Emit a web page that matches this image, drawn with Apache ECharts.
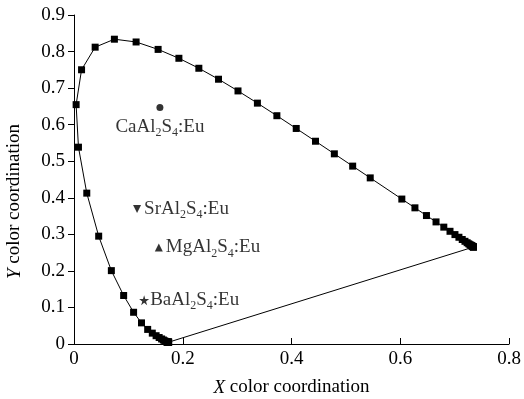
<!DOCTYPE html>
<html>
<head>
<meta charset="utf-8">
<script src="https://cdn.jsdelivr.net/npm/echarts@6/dist/echarts.min.js"></script>
<style>
  html, body { margin: 0; padding: 0; background: #fff; }
  #chart { width: 524px; height: 399px; }
</style>
</head>
<body>
<div id="chart"></div>
<script>
// spectral locus, 380 nm -> 700 nm (5 nm steps, 590 has no marker)
const locusX = [0.1741, 0.1740, 0.1738, 0.1736, 0.1733, 0.1731, 0.1726, 0.1721, 0.1714, 0.1703,
  0.1689, 0.1669, 0.1644, 0.1611, 0.1566, 0.1510, 0.1440, 0.1355, 0.1241, 0.1096,
  0.0913, 0.0687, 0.0454, 0.0235, 0.0082, 0.0039, 0.0139, 0.0389, 0.0743, 0.1142,
  0.1547, 0.1929, 0.2296, 0.2658, 0.3016, 0.3373, 0.3731, 0.4087, 0.4441, 0.4788,
  0.5125, 0.5448, 0.6029, 0.6270, 0.6482, 0.6658, 0.6801, 0.6915, 0.7006, 0.7079,
  0.7140, 0.7190, 0.7230, 0.7260, 0.7283, 0.7300, 0.7311, 0.7320, 0.7327, 0.7334,
  0.7340, 0.7344, 0.7346, 0.7347];
const locusY = [0.0050, 0.0050, 0.0049, 0.0049, 0.0048, 0.0048, 0.0048, 0.0048, 0.0051, 0.0058,
  0.0069, 0.0086, 0.0109, 0.0138, 0.0177, 0.0227, 0.0297, 0.0399, 0.0578, 0.0868,
  0.1327, 0.2007, 0.2950, 0.4127, 0.5384, 0.6548, 0.7502, 0.8120, 0.8338, 0.8262,
  0.8059, 0.7816, 0.7543, 0.7243, 0.6923, 0.6589, 0.6245, 0.5896, 0.5547, 0.5202,
  0.4866, 0.4544, 0.3965, 0.3725, 0.3514, 0.3340, 0.3197, 0.3083, 0.2993, 0.2920,
  0.2859, 0.2809, 0.2770, 0.2740, 0.2717, 0.2700, 0.2689, 0.2680, 0.2673, 0.2666,
  0.2660, 0.2656, 0.2654, 0.2653];

// phosphors
const phosphorNames = ['CaAl2S4:Eu', 'SrAl2S4:Eu', 'MgAl2S4:Eu', 'BaAl2S4:Eu'];
const phosphorX = [0.158, 0.116, 0.156, 0.129];
const phosphorY = [0.647, 0.369, 0.264, 0.120];

const xTicks = [0, 0.2, 0.4, 0.6, 0.8];
const yTicks = [0, 0.1, 0.2, 0.3, 0.4, 0.5, 0.6, 0.7, 0.8, 0.9];

const FONT = '"Liberation Serif", "DejaVu Serif", serif';
const FS = 19;

const starPath = 'path://M50,0 L61,35 L98,35 L68,57 L79,91 L50,70 L21,91 L32,57 L2,35 L39,35 Z';

// 下标数字用富文本
function chemLabel(name) {
    return '{a|' + name.replace(/(\d)/g, '}{s|$1}{a|') + '}';
}

const labelRich = {
    a: { fontFamily: FONT, fontSize: FS, color: '#000', lineHeight: 24 },
    s: { fontFamily: FONT, fontSize: 12, color: '#000', lineHeight: 12, verticalAlign: 'bottom' }
};

const locusData = locusX.map((x, i) => [x, locusY[i]]);
const purpleLine = [
    [locusX[locusX.length - 1], locusY[locusY.length - 1]],
    [locusX[0], locusY[0]]
];

const markers = [
    { symbol: 'circle', size: 7, rotate: 0, pos: 'bottom', dist: 4 },
    { symbol: 'triangle', size: 8, rotate: 180, pos: 'right', dist: 3 },
    { symbol: 'triangle', size: 8, rotate: 0, pos: 'right', dist: 3 },
    { symbol: starPath, size: 10, rotate: 0, pos: 'right', dist: 1 }
];

const phosphorSeries = phosphorNames.map((name, i) => ({
    type: 'scatter',
    name: name,
    data: [[phosphorX[i], phosphorY[i]]],
    symbol: markers[i].symbol,
    symbolSize: markers[i].size,
    symbolRotate: markers[i].rotate,
    itemStyle: { color: '#000' },
    label: {
        show: true,
        position: markers[i].pos,
        distance: markers[i].dist,
        formatter: function () { return chemLabel(name); },
        rich: labelRich
    },
    z: 5
}));

const chart = echarts.init(document.getElementById('chart'), null, { renderer: 'canvas' });

const axisCommon = {
    type: 'value',
    axisLine: { show: true, lineStyle: { color: '#000', width: 1 } },
    splitLine: { show: false },
    axisLabel: { color: '#000', fontFamily: FONT, fontSize: FS },
    nameTextStyle: {
        color: '#000', fontFamily: FONT, fontSize: FS,
        rich: {
            i: { fontFamily: FONT, fontSize: FS, fontStyle: 'italic', color: '#000' },
            r: { fontFamily: FONT, fontSize: FS, color: '#000' }
        }
    }
};

chart.setOption({
    animation: false,
    backgroundColor: '#fff',
    grid: { left: 74, right: 15, top: 15, bottom: 55, containLabel: false, outerBoundsMode: 'none' },
    xAxis: Object.assign({}, axisCommon, {
        min: xTicks[0],
        max: xTicks[xTicks.length - 1],
        interval: xTicks[1] - xTicks[0],
        name: '{i|X}{r| color coordination}',
        nameLocation: 'middle',
        nameGap: 34,
        axisTick: { show: true, inside: true, length: 6, lineStyle: { color: '#000' } },
        axisLabel: Object.assign({}, axisCommon.axisLabel, { margin: 6 })
    }),
    yAxis: Object.assign({}, axisCommon, {
        min: yTicks[0],
        max: yTicks[yTicks.length - 1],
        interval: yTicks[1] - yTicks[0],
        name: '{i|Y}{r| color coordination}',
        nameLocation: 'middle',
        nameGap: 50,
        nameTextStyle: Object.assign({}, axisCommon.nameTextStyle, { padding: [0, 44, 0, 0] }),
        axisTick: { show: true, inside: false, length: 6, lineStyle: { color: '#000' } },
        axisLabel: Object.assign({}, axisCommon.axisLabel, { margin: 9 })
    }),
    series: [
        {
            type: 'line',
            name: 'locus',
            data: locusData,
            symbol: 'rect',
            symbolSize: 7,
            showSymbol: true,
            itemStyle: { color: '#000' },
            lineStyle: { color: '#000', width: 1 },
            z: 3
        },
        {
            type: 'line',
            name: 'purple',
            data: purpleLine,
            symbol: 'none',
            lineStyle: { color: '#000', width: 1 },
            z: 2
        }
    ].concat(phosphorSeries)
});
</script>
</body>
</html>
